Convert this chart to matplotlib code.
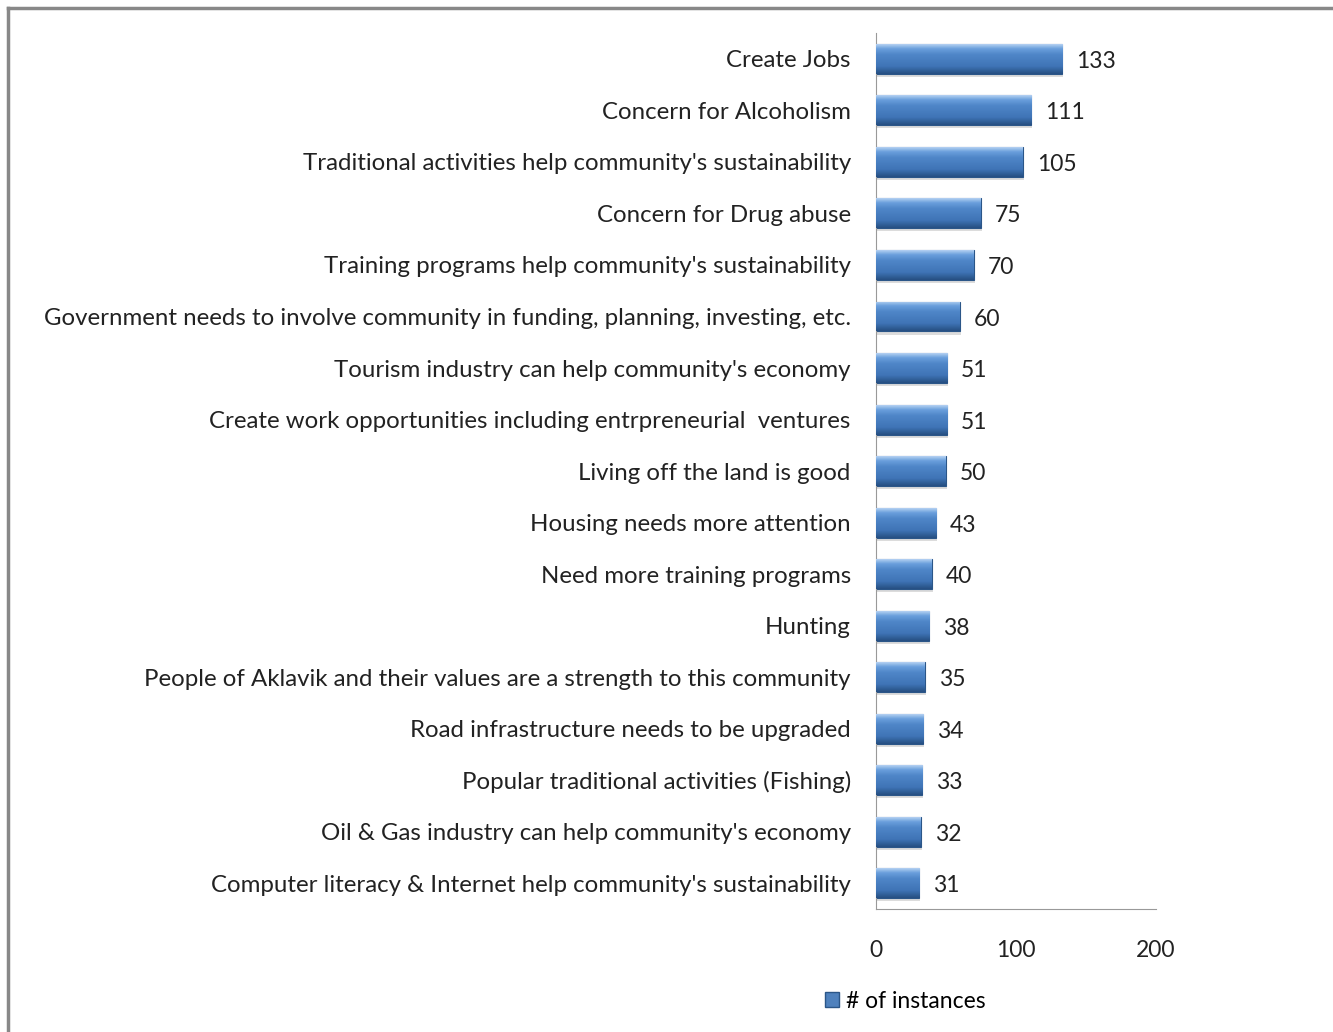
import numpy as np
import matplotlib
matplotlib.use("Agg")
import matplotlib.pyplot as plt
from matplotlib.colors import LinearSegmentedColormap
from matplotlib.patches import Rectangle

# survey responses, top to bottom
categories = [
    "Create Jobs",
    "Concern for Alcoholism",
    "Traditional activities help community's sustainability",
    "Concern for Drug abuse",
    "Training programs help community's sustainability",
    "Government needs to involve community in funding, planning, investing, etc.",
    "Tourism industry can help community's economy",
    "Create work opportunities including entrpreneurial  ventures",
    "Living off the land is good",
    "Housing needs more attention",
    "Need more training programs",
    "Hunting",
    "People of Aklavik and their values are a strength to this community",
    "Road infrastructure needs to be upgraded",
    "Popular traditional activities (Fishing)",
    "Oil & Gas industry can help community's economy",
    "Computer literacy & Internet help community's sustainability",
]
instances = [133, 111, 105, 75, 70, 60, 51, 51, 50, 43, 40, 38, 35, 34, 33, 32, 31]

plt.rcParams['font.family'] = ['Lato', 'DejaVu Sans']

fig = plt.figure(figsize=(13.33, 10.32), dpi=100)
ax = fig.add_axes([0.657, 0.119, 0.210, 0.849])

n = len(categories)
ypos = np.arange(n)
bar_h = 0.58

# gradient for the bevelled look: light top edge, darker bottom
cmap = LinearSegmentedColormap.from_list(
    "bev", [(0, "#b3d0f2"), (0.15, "#6a9fdc"), (0.35, "#4f86c8"),
            (0.75, "#3f74b6"), (1, "#264f82")])
grad = np.linspace(0, 1, 64).reshape(-1, 1)

bars = ax.barh(ypos, instances, height=bar_h, color="#4f81bd",
               edgecolor="#2b5688", linewidth=0.8, zorder=2)
for b in bars:
    x0, y0 = b.get_x(), b.get_y()
    w, h = b.get_width(), b.get_height()
    im = ax.imshow(grad, cmap=cmap, aspect="auto",
                   extent=[x0, x0 + w, y0 + h, y0], origin="upper", zorder=3)
    im.set_clip_path(b)
    # shadow
    ax.add_patch(Rectangle((x0 + 0.8, y0 + 0.06), w, h, color="#bbbbbb",
                           alpha=0.5, zorder=1, linewidth=0))

for y, v in zip(ypos, instances):
    ax.text(v + 10, y + 0.05, str(v), va="center", ha="left",
            fontsize=16.5, color="#222222")

ax.set_xlim(0, 200)
ax.set_ylim(n - 0.5, -0.5)
ax.set_xticks([0, 100, 200])
ax.set_yticks(ypos)
ax.set_yticklabels(categories, fontsize=17.3, color="#222222")
ax.tick_params(axis="x", length=0, pad=22, labelsize=16.5, labelcolor="#222222")
ax.tick_params(axis="y", length=0, pad=18)
for s in ["top", "right"]:
    ax.spines[s].set_visible(False)
ax.spines["left"].set_color("#999999")
ax.spines["bottom"].set_color("#999999")

# legend
handle = Rectangle((0, 0), 1, 1, facecolor="#4f81bd", edgecolor="#2b5688")
fig.legend([handle], ["# of instances"], loc="center",
           bbox_to_anchor=(905 / 1333, 1 - 1001 / 1032), frameon=False,
           fontsize=16.5, handlelength=0.6, handleheight=0.6, handletextpad=0.3)

# outer frame (top and left edges visible)
fig.add_artist(plt.Line2D([8 / 1333, 8 / 1333], [0, 1 - 8 / 1032],
                          color="#888888", linewidth=2.5))
fig.add_artist(plt.Line2D([8 / 1333, 1], [1 - 8 / 1032, 1 - 8 / 1032],
                          color="#888888", linewidth=2.5))

fig.savefig("out.png", dpi=100, facecolor="white")
